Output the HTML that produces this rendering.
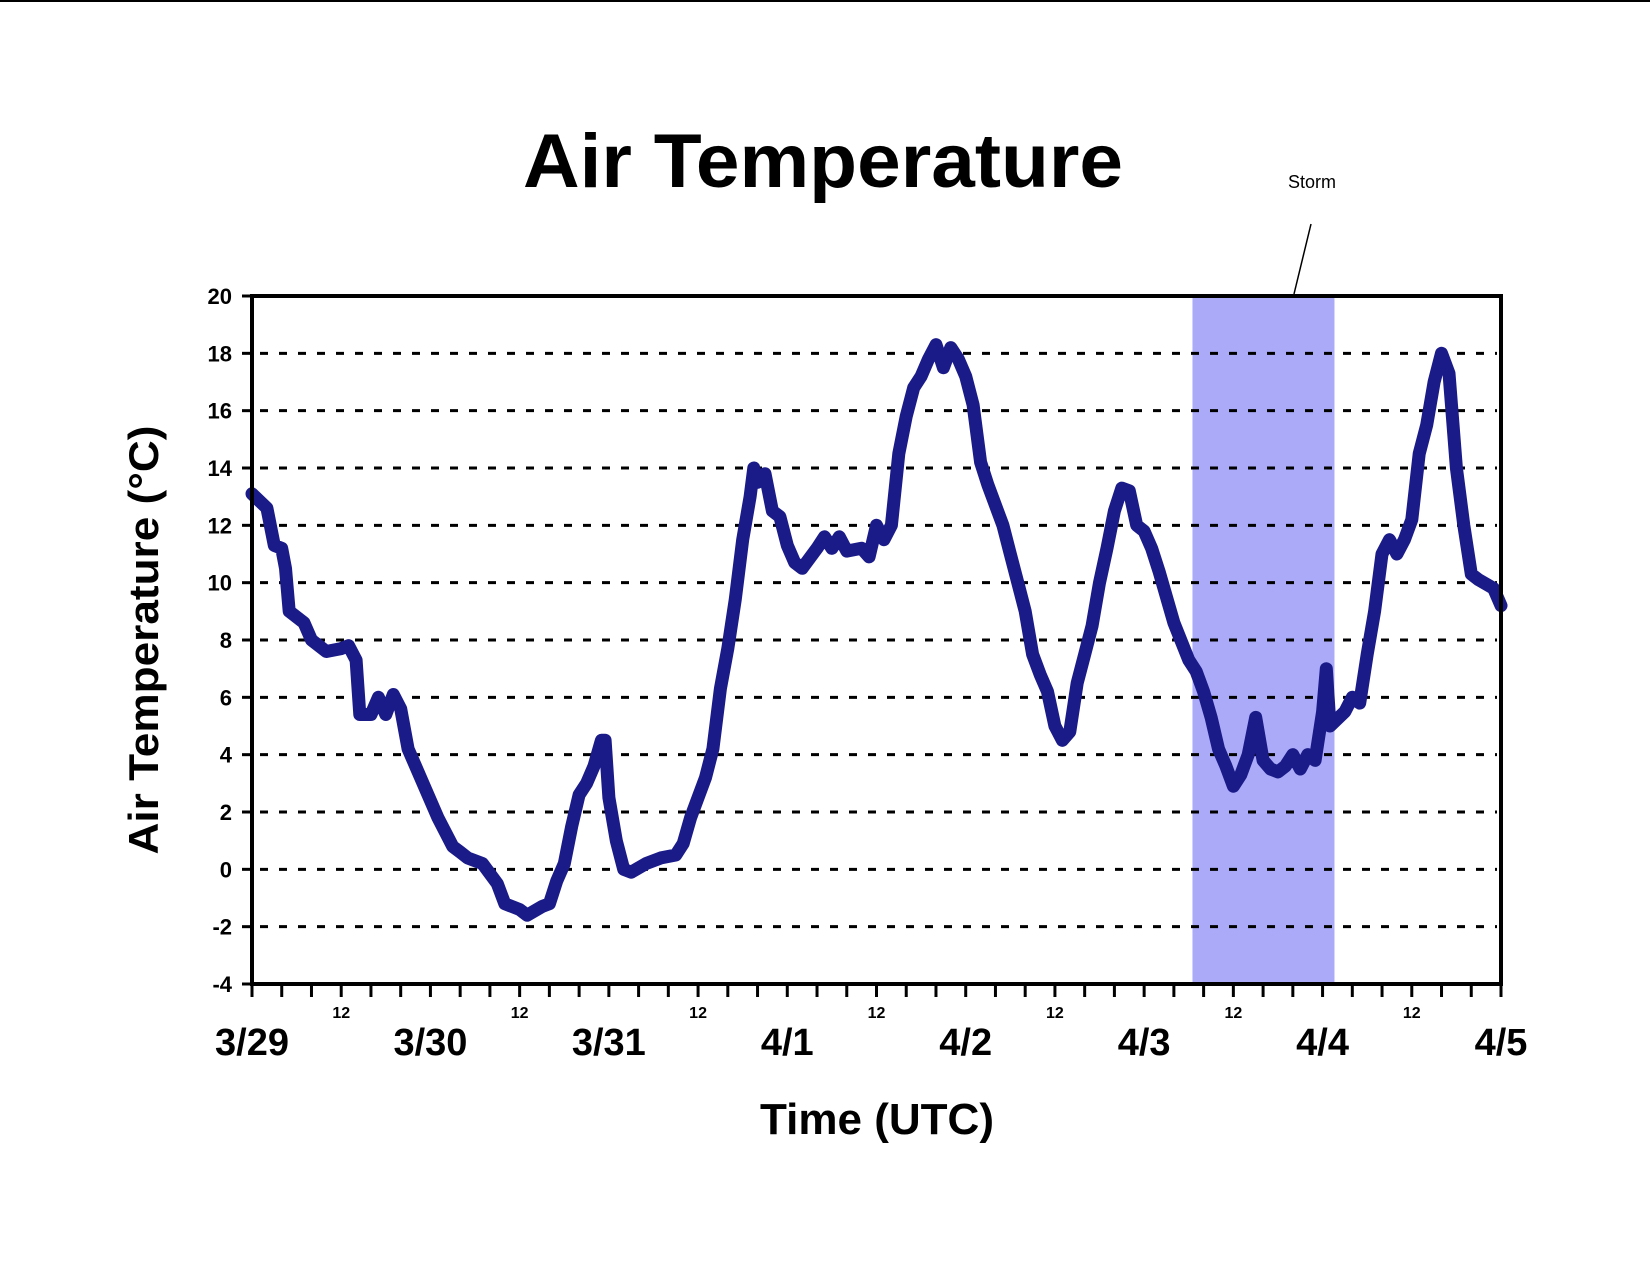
<!DOCTYPE html>
<html><head><meta charset="utf-8"><style>
html,body{margin:0;padding:0;background:#fff;}
svg{display:block;font-family:"Liberation Sans",Arial,sans-serif;}
</style></head><body>
<svg id="chart" width="1650" height="1275" viewBox="0 0 1650 1275">
<line x1="0" y1="1" x2="1650" y2="1" stroke="#000" stroke-width="2"/>
<text x="823" y="187" font-size="76" font-weight="bold" text-anchor="middle" textLength="600" lengthAdjust="spacingAndGlyphs">Air Temperature</text>
<g id="storm"></g>
<g id="grid"></g>
<g id="series"></g>
<g id="axes"></g>
<text transform="translate(158,640) rotate(-90)" font-size="42" font-weight="bold" text-anchor="middle" textLength="429" lengthAdjust="spacingAndGlyphs">Air Temperature (°C)</text>
<text x="877" y="1134" font-size="44" font-weight="bold" text-anchor="middle" textLength="234" lengthAdjust="spacingAndGlyphs">Time (UTC)</text>
</svg>
<script>
const dayLabels = ["3/29","3/30","3/31","4/1","4/2","4/3","4/4","4/5"];
const yTicks = [-4,-2,0,2,4,6,8,10,12,14,16,18,20];
const stormStartHour = 126.5;
const stormEndHour = 145.6;
const hours = [0,2,3,4,4.5,5,7,8,10,12,13,14,14.5,16,17,18,19,20,21,23,25,27,28,29,31,33,34,36,37,39,40,41,42,43,44,45,46,47,47.5,48,49,50,51,53,55,57,58,59,61,62,63,64,65,66,67,67.5,68,69,70,71,72,73,74,76,77,78,79,80,82,83,84,85,86,87,88,89,90,91,92,93,94,95,96,97,98,99,101,102,103,104,105,106,107,108,109,110,111,112,113,114,115,116,117,118,119,120,121,122,124,126,127,128,129,130,131,132,133,134,135,136,137,138,139,140,141,142,143,144,144.5,145,147,148,149,150,151,152,153,154,155,156,157,158,159,160,161,162,163,164,165,167,168];
const temps = [13.1,12.6,11.3,11.2,10.5,9,8.6,8,7.6,7.7,7.8,7.3,5.4,5.4,6.0,5.4,6.1,5.6,4.2,3,1.8,0.8,0.6,0.4,0.2,-0.5,-1.2,-1.4,-1.6,-1.3,-1.2,-0.4,0.2,1.5,2.6,3.0,3.6,4.5,4.5,2.5,1.0,0,-0.1,0.2,0.4,0.5,0.9,1.8,3.2,4.2,6.3,7.7,9.4,11.5,13.0,14,13.5,13.8,12.5,12.3,11.3,10.7,10.5,11.2,11.6,11.2,11.6,11.1,11.2,10.9,12.0,11.5,12.0,14.5,15.8,16.8,17.2,17.8,18.3,17.5,18.2,17.8,17.2,16.2,14.2,13.4,12,11,10,9,7.5,6.8,6.2,5,4.5,4.8,6.5,7.5,8.5,10,11.2,12.5,13.3,13.2,12,11.8,11.2,10.4,8.6,7.3,6.9,6.2,5.3,4.2,3.6,2.9,3.3,4,5.3,3.8,3.5,3.4,3.6,4.0,3.5,4.0,3.8,5.5,7,5,5.5,6,5.8,7.5,9,11,11.5,11.0,11.5,12.2,14.5,15.5,17,18,17.3,14,12,10.3,10.1,9.8,9.2];

const L=252,R=1501,T=296,B=984;
const totalHours=(dayLabels.length-1)*24;
const xs=h=>L+(R-L)*h/totalHours;
const ys=v=>B-(B-T)*(v-yTicks[0])/(yTicks[yTicks.length-1]-yTicks[0]);
const NS="http://www.w3.org/2000/svg";
function mk(tag,parent,attrs){const e=document.createElementNS(NS,tag);for(const k in attrs)e.setAttribute(k,attrs[k]);parent.appendChild(e);return e;}
const storm=document.getElementById('storm'),grid=document.getElementById('grid'),series=document.getElementById('series'),axes=document.getElementById('axes');

let band=mk('rect',storm,{x:xs(stormStartHour),y:T,width:xs(stormEndHour)-xs(stormStartHour),height:B-T,fill:'#aaaaf8'});


let sl=mk('text',storm,{x:1312,y:188,'font-size':18,'text-anchor':'middle'});sl.textContent='Storm';


let sline=mk('line',storm,{x1:1311,y1:224,x2:1294,y2:294,stroke:'#000','stroke-width':1.5});



yTicks.forEach(v=>{
  if(v!==yTicks[0]&&v!==yTicks[yTicks.length-1]){
    let g=mk('line',grid,{x1:L+8,y1:ys(v),x2:R-4,y2:ys(v),stroke:'#000','stroke-width':3,'stroke-dasharray':'8 11'});
    
    
  }
  let t=mk('line',axes,{x1:L-10,y1:ys(v),x2:L,y2:ys(v),stroke:'#000','stroke-width':3});
  
  
  let lb=mk('text',axes,{x:L-20,y:ys(v)+8,'font-size':22,'font-weight':'bold','text-anchor':'end'});lb.textContent=v;
  
  
});

const pts=hours.map((h,i)=>xs(h).toFixed(1)+','+ys(temps[i]).toFixed(1)).join(' ');
let pl=mk('polyline',series,{points:pts,fill:'none',stroke:'#1a1a88','stroke-width':13,'stroke-linejoin':'round','stroke-linecap':'round'});



let box=mk('rect',axes,{x:L,y:T,width:R-L,height:B-T,fill:'none',stroke:'#000','stroke-width':4});


for(let h=0;h<=totalHours;h+=4){
  let t=mk('line',axes,{x1:xs(h),y1:B,x2:xs(h),y2:B+13,stroke:'#000','stroke-width':3});
  
  
  if(h%24===12){
    let lb=mk('text',axes,{x:xs(h),y:1018,'font-size':16,'font-weight':'bold','text-anchor':'middle'});lb.textContent='12';
    
    
  }
}
dayLabels.forEach((d,i)=>{
  let lb=mk('text',axes,{x:xs(i*24),y:1055,'font-size':38,'font-weight':'bold','text-anchor':'middle'});lb.textContent=d;
  
  
});
</script>
</body></html>
